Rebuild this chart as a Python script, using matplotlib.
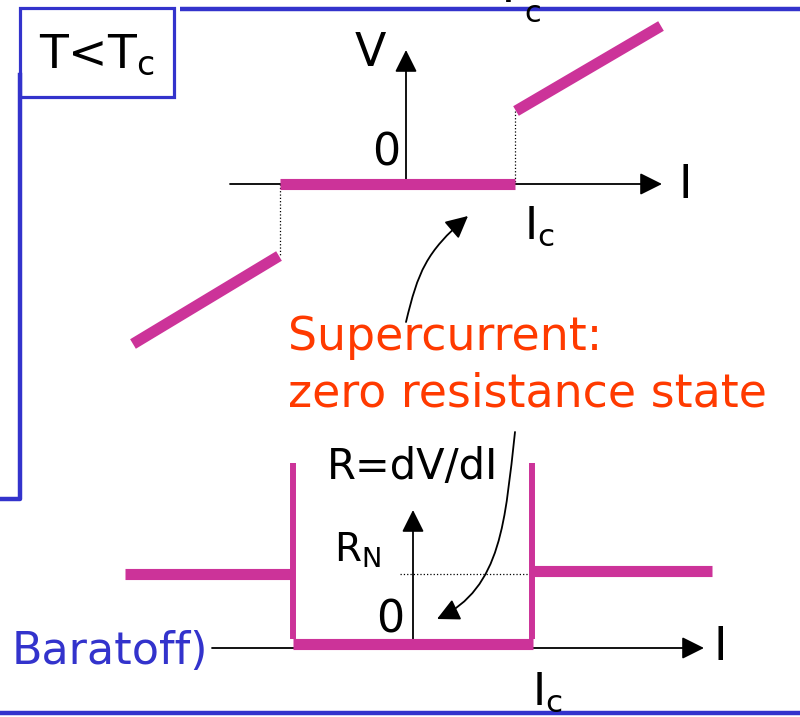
import matplotlib
matplotlib.use("Agg")
import matplotlib.pyplot as plt
from matplotlib.patches import FancyArrowPatch, Rectangle
from matplotlib.path import Path

BLUE = "#3333CC"
PINK = "#CC3399"
RED = "#FF3A00"

# I-V curve (T < Tc), drawn in slide pixel units
iv_super_x = [280, 515]
iv_super_y = [184, 184]
iv_left_x = [133, 279]
iv_left_y = [344, 256]
iv_right_x = [516, 661]
iv_right_y = [111, 26]

# dV/dI curve
r_left_x = [125, 292]
r_left_y = [574, 574]
r_wall_left_x = [293, 293]
r_wall_y = [463, 639]
r_zero_x = [293, 533]
r_zero_y = [644, 644]
r_wall_right_x = [532, 532]
r_right_x = [533, 712]
r_right_y = [571, 571]

fig = plt.figure(figsize=(8.0, 7.17), dpi=100)
ax = fig.add_axes([0, 0, 1, 1])
ax.set_xlim(0, 800)
ax.set_ylim(717, 0)
ax.axis("off")

# slide frame pieces
ax.plot([180, 800], [9, 9], color=BLUE, lw=3.2, solid_capstyle="butt")
ax.add_patch(Rectangle((20, 8), 154, 89, fill=False, ec=BLUE, lw=2.3))
ax.plot([20, 20, 0], [75, 499, 499], color=BLUE, lw=3.2)
ax.plot([0, 800], [713, 713], color=BLUE, lw=3.2)
ax.text(97, 55, r"T<T$_\mathregular{c}$", fontsize=34, ha="center", va="center")
ax.text(508, 2, "T", fontsize=34, ha="center", va="baseline", zorder=5)
ax.text(533, 13, "c", fontsize=22, ha="center", va="center", zorder=5)

arrow_kw = dict(arrowstyle="-|>", mutation_scale=34, color="black", lw=1.3,
                shrinkA=0, shrinkB=0)

# top axes
ax.add_patch(FancyArrowPatch((230, 184), (662, 184), **arrow_kw))
ax.add_patch(FancyArrowPatch((406, 184), (406, 50), **arrow_kw))
ax.text(370, 54, "V", fontsize=33, ha="center", va="center")
ax.text(386, 153, "0", fontsize=32, ha="center", va="center")
ax.text(685, 186, "I", fontsize=33, ha="center", va="center")
ax.text(524, 226, r"I$_\mathregular{c}$", fontsize=32, ha="left", va="center")

ax.plot([280, 280], [184, 256], color="black", lw=0.9, ls=":")
ax.plot([515, 515], [111, 184], color="black", lw=0.9, ls=":")
ax.plot(iv_super_x, iv_super_y, color=PINK, lw=8, solid_capstyle="butt")
ax.plot(iv_left_x, iv_left_y, color=PINK, lw=8, solid_capstyle="butt")
ax.plot(iv_right_x, iv_right_y, color=PINK, lw=8, solid_capstyle="butt")

# annotation
ax.text(288, 338, "Supercurrent:", fontsize=33, color=RED, ha="left", va="center")
ax.text(288, 394, "zero resistance state", fontsize=33, color=RED,
        ha="left", va="center")

up = Path([(406, 322), (418, 272), (426, 252), (468, 216)],
          [Path.MOVETO, Path.CURVE4, Path.CURVE4, Path.CURVE4])
ax.add_patch(FancyArrowPatch(path=up, arrowstyle="-|>", mutation_scale=34,
                             color="black", lw=1.3))
down = Path([(515, 432), (505, 520), (502, 588), (437, 619)],
            [Path.MOVETO, Path.CURVE4, Path.CURVE4, Path.CURVE4])
ax.add_patch(FancyArrowPatch(path=down, arrowstyle="-|>", mutation_scale=34,
                             color="black", lw=1.3))

# bottom axes
ax.add_patch(FancyArrowPatch((212, 648), (704, 648), **arrow_kw))
ax.add_patch(FancyArrowPatch((413, 648), (413, 510), **arrow_kw))
ax.text(327, 467, "R=dV/dI", fontsize=30, ha="left", va="center")
ax.text(334, 550, r"R$_\mathregular{N}$", fontsize=28, ha="left", va="center")
ax.text(390, 620, "0", fontsize=32, ha="center", va="center")
ax.text(720, 647, "I", fontsize=33, ha="center", va="center")
ax.text(532, 670, r"I$_\mathregular{c}$", fontsize=32, ha="left", va="top")
ax.text(12, 651, "Baratoff)", fontsize=32, color=BLUE, ha="left", va="center")

ax.plot([400, 548], [574, 574], color="black", lw=0.9, ls=":")
ax.plot(r_left_x, r_left_y, color=PINK, lw=8, solid_capstyle="butt")
ax.plot(r_wall_left_x, r_wall_y, color=PINK, lw=4.3, solid_capstyle="butt")
ax.plot(r_zero_x, r_zero_y, color=PINK, lw=8, solid_capstyle="butt")
ax.plot(r_wall_right_x, r_wall_y, color=PINK, lw=4.3, solid_capstyle="butt")
ax.plot(r_right_x, r_right_y, color=PINK, lw=8, solid_capstyle="butt")

fig.savefig("out.png", dpi=100)
